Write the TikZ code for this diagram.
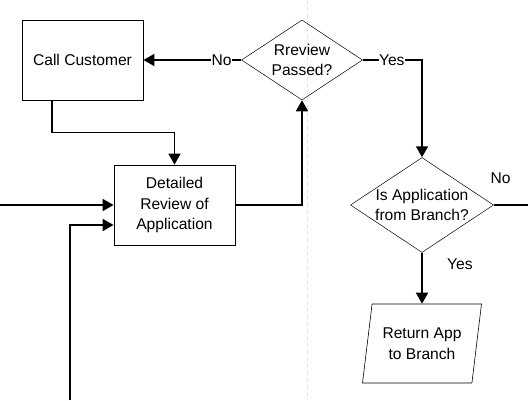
\documentclass[tikz,border=0pt]{standalone}
\usepackage{fontspec}
\setmainfont{Liberation Sans}
\usetikzlibrary{arrows.meta, shapes.geometric}

\begin{document}
\begin{tikzpicture}[> = {Triangle[length=11pt, width=12pt]}, x = 1pt, y = -1pt,
        every node/.style = {font = \fontsize{15.6}{20.5}\selectfont, align = center},
        process/.style = {draw, line width = 0.8pt, minimum width = 121pt,
            minimum height = 80pt, inner sep = 0pt},
        decision/.style = {draw, diamond, line width = 0.5pt, inner sep = 0pt},
        inout/.style = {draw, trapezium, trapezium left angle = 73,
            trapezium right angle = 107, trapezium stretches body,
            line width = 0.6pt, minimum width = 119pt, minimum height = 79pt,
            inner sep = 0pt},
        flow/.style = {->, line width = 1.8pt},
        answer/.style = {fill = white, inner sep = 0.5pt}]

        % Fix the page to the size of the picture.
        \useasboundingbox (0, 0) rectangle (528, 400);

        % Faint dashed divider between the two lanes.
        \draw[dash pattern = on 4pt off 3pt, black!10] (307, 0) to (307, 400);

        % Boxes for the two process steps.
        \node[process] (callcust) at (82.5, 60) {Call Customer};
        \node[process] (review) at (174.5, 205) {Detailed\\Review of\\Application};

        % The two decisions, text set over the shape.
        \node[decision, minimum width = 121pt, minimum height = 80pt,
            label = {center:Rreview\\Passed?}] (passed) at (302, 60) {};
        \node[decision, minimum width = 143pt, minimum height = 95pt,
            label = {center:Is Application\\from Branch?}] (branch) at (422, 205) {};

        % Parallelogram for sending the application back.
        \node[inout] (retbranch) at (422, 343.5) {Return App\\to Branch};

        % Loose ends of the lines that leave the picture.
        \coordinate (inleft) at (0, 205);
        \coordinate (inbottom) at (70, 400);
        \coordinate (outright) at (528, 205);

        % Lines coming into the review box.
        \draw[flow] (inleft) to (review.west);
        \draw[flow] (inbottom) |- ([yshift = -20pt]review.west);
        \draw[flow] ([xshift = -30.5pt]callcust.south) -- ++(0, 32) -| (review.north);

        % Review box up to the first decision.
        \draw[flow] (review.east) -| (passed.south);

        % Answers of the first decision.
        \draw[flow] (passed.west) to node[answer, pos = 0.2] {No} (callcust.east);
        \draw[flow] (passed.east) -| node[answer, pos = 0.245] {Yes} (branch.north);

        % Answers of the second decision.
        \draw[line width = 1.8pt] (branch.east) to node[pos = 0.2, above = 17pt] {No} (outright);
        \draw[flow] (branch.south) to node[pos = 0.23, right = 21pt] {Yes} (retbranch.north);
    \end{tikzpicture}
\end{document}
